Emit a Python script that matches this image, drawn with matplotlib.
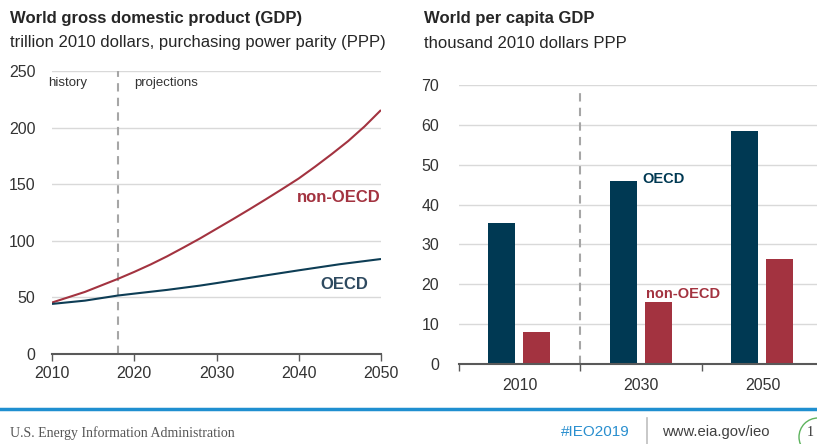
import matplotlib
matplotlib.use("Agg")
import matplotlib.pyplot as plt
from matplotlib.patches import Ellipse
import numpy as np

plt.rcParams['font.family'] = ['Liberation Sans', 'DejaVu Sans']

# ---- data ----
years_non = [2010, 2014, 2018, 2020, 2022, 2024, 2026, 2028, 2030, 2032, 2034,
             2036, 2038, 2040, 2042, 2044, 2046, 2048, 2050]
gdp_non_oecd = [45.3, 54.7, 66.2, 72.4, 79.0, 86.2, 94.0, 102.0, 110.5, 119.0,
                127.7, 136.6, 145.7, 155.0, 165.5, 176.5, 188.0, 201.0, 215.5]
years_oecd = [2010, 2014, 2018, 2020, 2024, 2028, 2030, 2035, 2040, 2045, 2050]
gdp_oecd = [44.1, 47.0, 51.5, 53.2, 56.5, 60.3, 62.5, 68.2, 73.8, 79.2, 83.8]

pc_categories = ['2010', '2030', '2050']
pc_oecd = [35.3, 45.9, 58.4]
pc_non_oecd = [8.0, 15.5, 26.4]

OECD_C = '#003953'
NON_C = '#A33340'
GRID_C = '#D9D9D9'
AX_C = '#595959'
TXT_C = '#333333'

W, H = 817, 444
fig = plt.figure(figsize=(W / 100, H / 100), dpi=100)

def ax_rect(l, r, t, b):
    return [l / W, 1 - b / H, (r - l) / W, (b - t) / H]

# ---- left chart ----
ax1 = fig.add_axes(ax_rect(52, 381, 71, 353.8))
ax1.plot(years_non, gdp_non_oecd, color=NON_C, lw=1.5, solid_capstyle='butt')
ax1.plot(years_oecd, gdp_oecd, color='#0D3D55', lw=1.5, solid_capstyle='butt')
ax1.set_xlim(2010, 2050)
ax1.set_ylim(0, 250)
ax1.set_yticks(range(0, 251, 50))
ax1.set_xticks(range(2010, 2051, 10))
for v in range(50, 251, 50):
    ax1.axhline(v, color=GRID_C, lw=1, zorder=0)
ax1.axvline(2018, color='#A6A6A6', lw=1.5, ls=(0, (4, 3)), zorder=0)
for s in ['top', 'right', 'left']:
    ax1.spines[s].set_visible(False)
ax1.spines['bottom'].set_color(AX_C)
ax1.spines['bottom'].set_linewidth(1.5)
ax1.tick_params(axis='y', length=0, pad=12, labelsize=11.5, labelcolor=TXT_C)
ax1.tick_params(axis='x', direction='out', length=5, color=AX_C, width=1,
                pad=4, labelsize=11.5, labelcolor=TXT_C)
fig.text(48 / W, 1 - 83 / H, 'history', fontsize=9.5, color=TXT_C,
         va='center', ha='left')
fig.text(134 / W, 1 - 83 / H, 'projections', fontsize=9.5, color=TXT_C,
         va='center', ha='left')
ax1.text(2050, 138, 'non-OECD', color=NON_C, fontsize=12,
         fontweight='bold', ha='right', va='center')
ax1.text(2048.4, 61, 'OECD', color='#2E4A60', fontsize=12,
         fontweight='bold', ha='right', va='center')

# ---- right chart ----
ax2 = fig.add_axes(ax_rect(458.7, 817, 85, 364))
x = np.arange(len(pc_categories))
bw = 0.222
off = 0.144
ax2.bar(x - off, pc_oecd, width=bw, color=OECD_C, zorder=2)
ax2.bar(x + off, pc_non_oecd, width=bw, color=NON_C, zorder=2)
ax2.set_xlim(-0.5, -0.5 + (817 - 458.7) / 121.5)
ax2.set_ylim(0, 70)
ax2.set_yticks(range(0, 71, 10))
for v in range(10, 71, 10):
    ax2.axhline(v, color=GRID_C, lw=1, zorder=0)
ax2.axvline(0.5, ymax=0.985, color='#A6A6A6', lw=1.5, ls=(0, (4, 3)), zorder=1)
ax2.set_xticks(x)
ax2.set_xticklabels(pc_categories)
ax2.set_xticks([-0.5, 0.5, 1.5], minor=True)
for s in ['top', 'right', 'left']:
    ax2.spines[s].set_visible(False)
ax2.spines['bottom'].set_color(AX_C)
ax2.spines['bottom'].set_linewidth(1.5)
ax2.tick_params(axis='y', length=0, pad=14, labelsize=11.5, labelcolor=TXT_C)
ax2.tick_params(axis='x', which='major', length=0, pad=10, labelsize=11.5,
                labelcolor=TXT_C)
ax2.tick_params(axis='x', which='minor', direction='out', length=5,
                color=AX_C, width=1)
ax2.text(1.015, 46.5, 'OECD', color=OECD_C, fontsize=10.5, fontweight='bold',
         ha='left', va='center')
ax2.text(1.04, 17.6, 'non-OECD', color=NON_C, fontsize=10.5,
         fontweight='bold', ha='left', va='center')

# ---- titles ----
fig.text(10 / W, 1 - 18 / H, 'World gross domestic product (GDP)',
         fontsize=12, fontweight='bold', color='#262626', va='center')
fig.text(10 / W, 1 - 42 / H,
         'trillion 2010 dollars, purchasing power parity (PPP)',
         fontsize=12, color='#262626', va='center')
fig.text(424 / W, 1 - 18 / H, 'World per capita GDP',
         fontsize=12, fontweight='bold', color='#262626', va='center')
fig.text(424 / W, 1 - 43 / H, 'thousand 2010 dollars PPP',
         fontsize=12, color='#262626', va='center')

# ---- footer ----
fig.add_artist(plt.Line2D([0, 1], [1 - 409 / H, 1 - 409 / H],
                          transform=fig.transFigure, color='#1F8FD0', lw=2.5))
fig.text(10 / W, 1 - 433 / H, 'U.S. Energy Information Administration',
         fontsize=10, family=['Liberation Serif'], color='#555555',
         va='center')
fig.text(561 / W, 1 - 432 / H, '#IEO2019', fontsize=11, color='#2A8FCF',
         va='center')
fig.add_artist(plt.Line2D([647 / W, 647 / W], [1 - 418 / H, 1 - 444 / H],
                          transform=fig.transFigure, color='#BFBFBF', lw=1.2))
fig.text(662 / W, 1 - 432 / H, 'www.eia.gov/ieo', fontsize=10.7,
         color='#404040', va='center')
fig.add_artist(Ellipse((818 / W, 1 - 437 / H), 38 / W, 38 / H,
                       transform=fig.transFigure, fill=False,
                       edgecolor='#5DB35D', lw=1))
fig.text(807 / W, 1 - 432 / H, '1', fontsize=10, family=['Liberation Serif'],
         color='#333333', va='center')

fig.savefig('out.png', dpi=100)
